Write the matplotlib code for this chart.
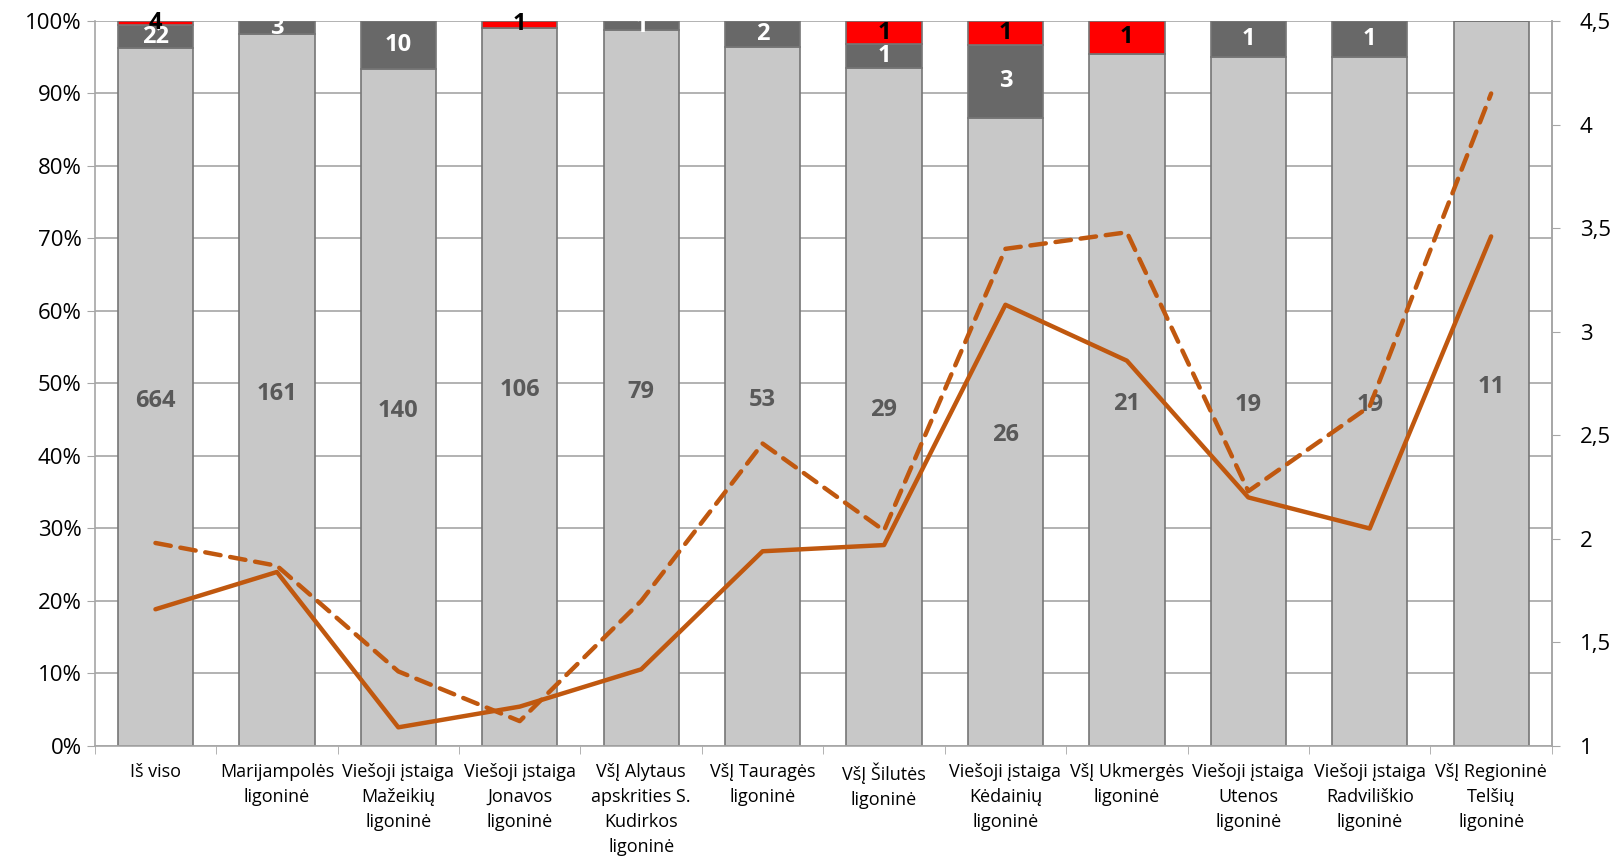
import numpy as np
import matplotlib.pyplot as plt
from matplotlib.ticker import FuncFormatter, FixedLocator

plt.rcParams['font.family'] = ['Open Sans', 'DejaVu Sans']

# duomenys
categories = ['Iš viso', 'Marijampolės\nligoninė', 'Viešoji įstaiga\nMažeikių\nligoninė',
              'Viešoji įstaiga\nJonavos\nligoninė', 'VšĮ Alytaus\napskrities S.\nKudirkos\nligoninė',
              'VšĮ Tauragės\nligoninė', 'VšĮ Šilutės\nligoninė', 'Viešoji įstaiga\nKėdainių\nligoninė',
              'VšĮ Ukmergės\nligoninė', 'Viešoji įstaiga\nUtenos\nligoninė',
              'Viešoji įstaiga\nRadviliškio\nligoninė', 'VšĮ Regioninė\nTelšių\nligoninė']
light = [664, 161, 140, 106, 79, 53, 29, 26, 21, 19, 19, 11]
dark = [22, 3, 10, 0, 1, 2, 1, 3, 0, 1, 1, 0]
red = [4, 0, 0, 1, 0, 0, 1, 1, 1, 0, 0, 0]
solid_line = [1.66, 1.84, 1.09, 1.19, 1.37, 1.94, 1.97, 3.13, 2.86, 2.20, 2.05, 3.46]
dashed_line = [1.98, 1.87, 1.36, 1.12, 1.70, 2.46, 2.04, 3.40, 3.48, 2.23, 2.64, 4.15]

light = np.array(light, float)
dark = np.array(dark, float)
red = np.array(red, float)
total = light + dark + red
p_light = light / total * 100
p_dark = dark / total * 100
p_red = red / total * 100

x = np.arange(len(categories))
w = 0.62

fig = plt.figure(figsize=(16.14, 8.64), dpi=100)
ax = fig.add_axes([0.0587, 0.1366, 0.9028, 0.8391])

ax.set_axisbelow(True)
ax.yaxis.grid(True, color='#A6A6A6', lw=1.2)
ax.bar(x, p_light, w, color='#C8C8C8', edgecolor='#767676', lw=1.2)
ax.bar(x, p_dark, w, bottom=p_light, color='#686868', edgecolor='#767676', lw=1.2)
ax.bar(x, p_red, w, bottom=p_light + p_dark, color='#FF0000', edgecolor='#767676', lw=1.2)

for i in range(len(x)):
    ax.text(x[i], p_light[i] / 2 - 0.5, '%d' % light[i], ha='center', va='center',
            fontsize=17, fontweight='bold', color='#595959')
    if dark[i] > 0:
        ax.text(x[i], p_light[i] + p_dark[i] / 2, '%d' % dark[i], ha='center', va='center',
                fontsize=17, fontweight='bold', color='white')
    if red[i] > 0:
        ax.text(x[i], p_light[i] + p_dark[i] + p_red[i] / 2, '%d' % red[i], ha='center',
                va='center', fontsize=17, fontweight='bold', color='black')

ax.set_xlim(-0.5, len(x) - 0.5)
ax.set_ylim(0, 100)
ax.set_yticks(np.arange(0, 101, 10))
ax.yaxis.set_major_formatter(FuncFormatter(lambda v, p: '%d%%' % v))
ax.set_xticks(x)
ax.set_xticklabels(categories, fontsize=13, linespacing=1.5)
ax.tick_params(axis='x', length=0, pad=12)
ax.xaxis.set_minor_locator(FixedLocator(np.arange(-0.5, len(x), 1)))
ax.tick_params(axis='x', which='minor', length=6, color='#A6A6A6')
ax.tick_params(axis='y', labelsize=16, length=6, color='#A6A6A6')
for s in ['top']:
    ax.spines[s].set_visible(False)
for s in ['left', 'bottom', 'right']:
    ax.spines[s].set_color('#A6A6A6')
    ax.spines[s].set_linewidth(1.2)

ax2 = ax.twinx()
ax2.plot(x, solid_line, color='#C0580F', lw=3.2, solid_capstyle='round')
ax2.plot(x, dashed_line, color='#C0580F', lw=3.2, dashes=(3.5, 2.2), dash_capstyle='round')
ax2.set_ylim(1, 4.5)
ax2.set_yticks(np.arange(1, 4.51, 0.5))
ax2.yaxis.set_major_formatter(FuncFormatter(lambda v, p: ('%g' % v).replace('.', ',')))
ax2.tick_params(axis='y', labelsize=16, length=6, color='#A6A6A6', pad=14)
for s in ['top', 'left', 'bottom']:
    ax2.spines[s].set_visible(False)
ax2.spines['right'].set_color('#A6A6A6')
ax2.spines['right'].set_linewidth(1.2)

fig.savefig('out.png', dpi=100)
